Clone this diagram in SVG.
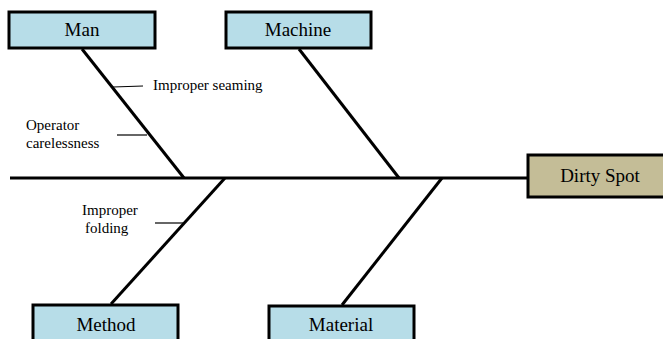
<svg xmlns="http://www.w3.org/2000/svg" width="663" height="339" viewBox="0 0 663 339">
<style>
.cat{fill:#b7dde8;stroke:#000;stroke-width:3}
.eff{fill:#c4bd97;stroke:#000;stroke-width:3}
.t{font-family:"Liberation Serif",serif;font-size:19px;fill:#000;text-anchor:middle}
.s{font-family:"Liberation Serif",serif;font-size:15px;fill:#000}
.b{stroke:#000;stroke-width:3;fill:none}
.sb{stroke:#000;stroke-width:1.2;fill:none}
</style>
<rect width="663" height="339" fill="#fff"/>
<g id="connectors">
<line class="b" x1="10" y1="178" x2="528" y2="178"/>
<line class="b" x1="82" y1="49" x2="184" y2="178"/>
<line class="b" x1="299" y1="49" x2="399" y2="178"/>
<line class="b" x1="225" y1="178" x2="111" y2="304"/>
<line class="b" x1="442" y1="178" x2="342" y2="305"/>
<line class="sb" x1="113" y1="87" x2="143" y2="86"/>
<line class="sb" x1="117" y1="135" x2="147" y2="135"/>
<line class="sb" x1="155" y1="223" x2="183" y2="223"/>
</g>
<g id="man"><rect class="cat" x="9" y="12" width="146" height="36"/><text class="t" x="82" y="36">Man</text></g>
<g id="machine"><rect class="cat" x="226" y="12" width="145" height="36"/><text class="t" x="298" y="36">Machine</text></g>
<g id="method"><rect class="cat" x="33" y="305" width="145" height="40"/><text class="t" x="106" y="331">Method</text></g>
<g id="material"><rect class="cat" x="269" y="306" width="145" height="40"/><text class="t" x="341" y="331">Material</text></g>
<g id="dirty-spot"><rect class="eff" x="528" y="155" width="140" height="42"/><text class="t" x="600" y="182">Dirty Spot</text></g>
<g id="improper-seaming"><text class="s" x="153" y="90">Improper seaming</text></g>
<g id="operator-carelessness"><text class="s" x="26" y="130">Operator</text><text class="s" x="26" y="148">carelessness</text></g>
<g id="improper-folding"><text class="s" x="82" y="215">Improper</text><text class="s" x="85" y="233">folding</text></g>
</svg>
